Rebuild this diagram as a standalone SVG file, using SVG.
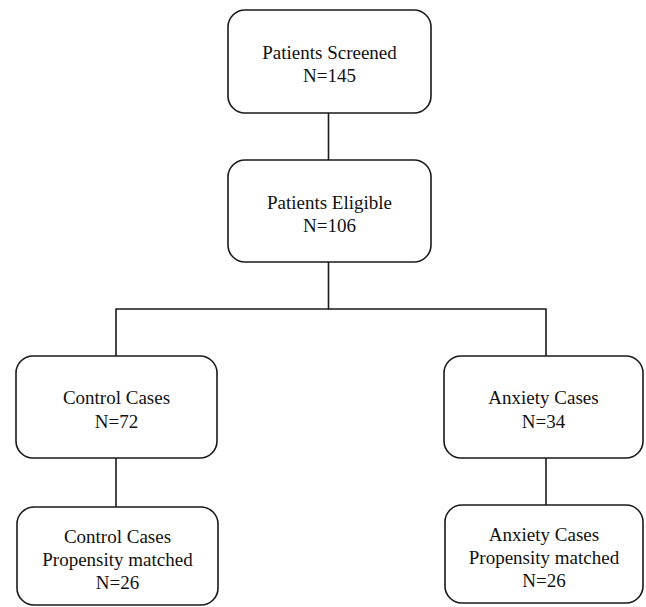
<svg xmlns="http://www.w3.org/2000/svg" width="646" height="607" viewBox="0 0 646 607">
<style>
.box{fill:#fff;stroke:#1a1a1a;stroke-width:1.6}
.con{fill:none;stroke:#1a1a1a;stroke-width:1.6}
text{font-family:"Liberation Serif","Times New Roman",serif;font-size:19px;fill:#111;text-anchor:middle}
</style>
<rect width="646" height="607" fill="#fff"/>
<g id="connectors">
<line class="con" x1="328.5" y1="113" x2="328.5" y2="160"/>
<polyline class="con" points="328.5,262 328.5,309 116,309 116,356"/>
<polyline class="con" points="328.5,309 546,309 546,356"/>
<line class="con" x1="116" y1="458" x2="116" y2="507"/>
<line class="con" x1="546" y1="458" x2="546" y2="505"/>
</g>
<g id="screened">
<rect class="box" x="228" y="10" width="203" height="103" rx="17"/>
<text x="329.5" y="59">Patients Screened</text>
<text x="329.5" y="82">N=145</text>
</g>
<g id="eligible">
<rect class="box" x="228" y="160" width="203" height="102" rx="17"/>
<text x="329.5" y="209">Patients Eligible</text>
<text x="329.5" y="232">N=106</text>
</g>
<g id="control">
<rect class="box" x="16" y="356" width="201" height="102" rx="17"/>
<text x="116.5" y="404">Control Cases</text>
<text x="116.5" y="428">N=72</text>
</g>
<g id="anxiety">
<rect class="box" x="444" y="356" width="199" height="102" rx="17"/>
<text x="543.5" y="404">Anxiety Cases</text>
<text x="543.5" y="428">N=34</text>
</g>
<g id="control-matched">
<rect class="box" x="17" y="507" width="201" height="98" rx="17"/>
<text x="117.5" y="543">Control Cases</text>
<text x="117.5" y="566">Propensity matched</text>
<text x="117.5" y="589">N=26</text>
</g>
<g id="anxiety-matched">
<rect class="box" x="445" y="505" width="198" height="98" rx="17"/>
<text x="544" y="541">Anxiety Cases</text>
<text x="544" y="564">Propensity matched</text>
<text x="544" y="587">N=26</text>
</g>
</svg>
